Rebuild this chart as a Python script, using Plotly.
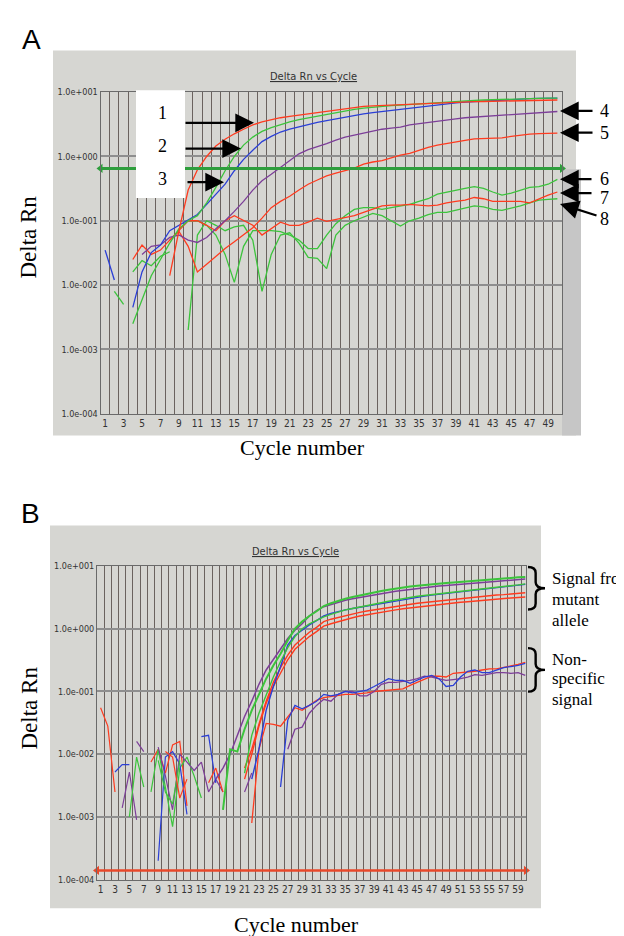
import math
import plotly.graph_objects as go

W, H = 624, 936

# ---------------- shared tick data ----------------
y_tick_vals = [1e-4, 1e-3, 1e-2, 1e-1, 1e0, 1e1]
y_tick_text = ["1.0e-004", "1.0e-003", "1.0e-002", "1.0e-001", "1.0e+000", "1.0e+001"]
a_tick_cycles = list(range(1, 50, 2))
b_tick_cycles = list(range(1, 60, 2))

a_threshold = 0.65
b_threshold = 1.4e-4

# ---------------- panel A data (start cycle + values) ----------------
a_red1_start = 8
a_red1 = [0.014, 0.07, 0.3, 0.62, 1.0, 1.45, 1.85, 2.25, 2.65, 3.1, 3.45, 3.75, 4.0, 4.2,
          4.4, 4.6, 4.85, 5.1, 5.35, 5.55, 5.8, 6.0, 6.1, 6.2, 6.3, 6.4, 6.5, 6.6, 6.7, 6.8,
          6.9, 7.0, 7.05, 7.1, 7.15, 7.2, 7.25, 7.3, 7.35, 7.4, 7.45, 7.5, 7.55]
a_green2_start = 4
a_green2 = [0.0025, 0.006, 0.014, 0.025, 0.045, 0.075, 0.1, 0.12, 0.19, 0.33, 0.6, 1.0, 1.5,
            2.0, 2.45, 2.8, 3.15, 3.45, 3.75, 4.0, 4.25, 4.5, 4.8, 5.1, 5.4, 5.65, 5.85, 6.0,
            6.15, 6.3, 6.45, 6.6, 6.75, 6.9, 7.05, 7.2, 7.35, 7.45, 7.55, 7.65, 7.75, 7.85,
            7.9, 7.95, 8.0, 8.05, 8.1]
a_blue3a_start = 1
a_blue3a = [0.035, 0.012]
a_blue3_start = 4
a_blue3 = [0.0045, 0.016, 0.032, 0.042, 0.07, 0.085, 0.1, 0.125, 0.18, 0.26, 0.37, 0.6, 0.9,
           1.25, 1.7, 2.05, 2.4, 2.65, 2.9, 3.15, 3.4, 3.6, 3.85, 4.1, 4.4, 4.6, 4.8, 5.0,
           5.15, 5.35, 5.6, 5.85, 6.1, 6.35, 6.6, 6.8, 7.0, 7.15, 7.3, 7.45, 7.6, 7.7, 7.8,
           7.9, 8.0, 8.05, 8.1]
a_purple4_start = 5
a_purple4 = [0.03, 0.04, 0.042, 0.055, 0.06, 0.05, 0.046, 0.055, 0.075, 0.1, 0.14, 0.2, 0.3,
             0.42, 0.53, 0.68, 0.88, 1.1, 1.28, 1.42, 1.58, 1.8, 2.0, 2.15, 2.3, 2.5, 2.65,
             2.75, 2.85, 3.1, 3.25, 3.4, 3.55, 3.7, 3.85, 4.0, 4.1, 4.2, 4.3, 4.4, 4.5, 4.6,
             4.7, 4.8, 4.9, 5.0]
a_red5_start = 8
a_red5 = [0.05, 0.068, 0.04, 0.016, 0.021, 0.028, 0.037, 0.047, 0.06, 0.078, 0.11, 0.16, 0.2,
          0.24, 0.3, 0.37, 0.43, 0.5, 0.55, 0.6, 0.66, 0.76, 0.82, 0.86, 0.95, 1.05, 1.12,
          1.25, 1.38, 1.5, 1.6, 1.68, 1.78, 1.88, 1.9, 1.9, 1.95, 2.05, 2.15, 2.22, 2.26,
          2.28, 2.3]
a_green6a_start = 4
a_green6a = [0.016, 0.024, 0.02, 0.028, 0.033]
a_green6_start = 10
a_green6 = [0.1, 0.1, 0.085, 0.06, 0.03, 0.011, 0.04, 0.07, 0.07, 0.07, 0.068, 0.06, 0.05,
            0.037, 0.037, 0.06, 0.09, 0.12, 0.15, 0.16, 0.16, 0.15, 0.16, 0.17, 0.18, 0.2,
            0.22, 0.26, 0.28, 0.3, 0.32, 0.34, 0.32, 0.28, 0.25, 0.27, 0.3, 0.33, 0.34, 0.37,
            0.44]
a_red7_start = 4
a_red7 = [0.025, 0.042, 0.03, 0.035, 0.05, 0.07, 0.1, 0.1, 0.085, 0.07, 0.1, 0.12, 0.1, 0.085,
          0.06, 0.075, 0.095, 0.085, 0.085, 0.095, 0.11, 0.098, 0.105, 0.115, 0.12, 0.135,
          0.15, 0.17, 0.175, 0.175, 0.18, 0.175, 0.17, 0.175, 0.19, 0.2, 0.21, 0.23, 0.22,
          0.2, 0.2, 0.2, 0.2, 0.19, 0.22, 0.25, 0.28]
a_green8a_start = 2
a_green8a = [0.008, 0.005]
a_green8_start = 10
a_green8 = [0.002, 0.06, 0.1, 0.085, 0.07, 0.08, 0.085, 0.05, 0.008, 0.03, 0.06, 0.065, 0.045,
            0.027, 0.026, 0.018, 0.06, 0.085, 0.1, 0.115, 0.13, 0.12, 0.1, 0.083, 0.1, 0.11,
            0.125, 0.135, 0.135, 0.145, 0.16, 0.17, 0.165, 0.15, 0.145, 0.155, 0.17, 0.19,
            0.21, 0.215, 0.22]

# ---------------- panel B data ----------------
b_purple_start = 17
b_purple = [0.004, 0.006, 0.01, 0.02, 0.04, 0.07, 0.13, 0.22, 0.32, 0.48, 0.7, 0.95, 1.2, 1.6,
            1.95, 2.25, 2.45, 2.65, 2.85, 3.0, 3.15, 3.35, 3.5, 3.65, 3.8, 3.95, 4.1, 4.25,
            4.4, 4.55, 4.65, 4.8, 4.9, 5.0, 5.1, 5.2, 5.3, 5.45, 5.55, 5.7, 5.85, 5.95, 6.05,
            6.2]
b_green_top_start = 18
b_green_top = [0.0013, 0.012, 0.011, 0.025, 0.05, 0.09, 0.16, 0.26, 0.4, 0.65, 1.0, 1.3, 1.6,
               1.9, 2.3, 2.55, 2.8, 3.0, 3.2, 3.4, 3.6, 3.8, 4.0, 4.2, 4.4, 4.55, 4.7, 4.85,
               5.0, 5.1, 5.2, 5.35, 5.45, 5.55, 5.65, 5.8, 5.9, 6.0, 6.15, 6.3, 6.45, 6.6, 6.7]
b_green2_start = 21
b_green2 = [0.005, 0.02, 0.045, 0.09, 0.17, 0.3, 0.5, 0.75, 1.0, 1.2, 1.38, 1.55, 1.7, 1.85,
            2.0, 2.1, 2.2, 2.35, 2.45, 2.6, 2.75, 2.9, 3.0, 3.15, 3.3, 3.4, 3.5, 3.6, 3.7, 3.8,
            3.9, 4.0, 4.1, 4.25, 4.4, 4.55, 4.7, 4.85, 5.0, 5.2]
b_blue_start = 22
b_blue = [0.004, 0.012, 0.05, 0.12, 0.25, 0.55, 0.78, 0.95, 1.15, 1.35, 1.6, 1.75, 1.88, 2.0,
          2.1, 2.2, 2.32, 2.42, 2.55, 2.7, 2.82, 2.95, 3.08, 3.2, 3.32, 3.44, 3.55, 3.65, 3.75,
          3.85, 3.95, 4.05, 4.2, 4.35, 4.5, 4.65, 4.8, 4.95, 5.1]
b_red1_start = 21
b_red1 = [0.006, 0.012, 0.03, 0.07, 0.14, 0.24, 0.38, 0.55, 0.7, 0.88, 1.05, 1.3, 1.42, 1.52,
          1.62, 1.72, 1.82, 1.92, 2.0, 2.1, 2.2, 2.28, 2.36, 2.45, 2.55, 2.62, 2.7, 2.78, 2.85,
          2.92, 3.0, 3.08, 3.15, 3.25, 3.35, 3.45, 3.5, 3.6, 3.68, 3.75]
b_red2_start = 21
b_red2 = [0.004, 0.01, 0.028, 0.065, 0.12, 0.2, 0.32, 0.47, 0.6, 0.75, 0.9, 1.1, 1.2, 1.3, 1.4,
          1.5, 1.6, 1.68, 1.76, 1.85, 1.92, 2.0, 2.08, 2.15, 2.22, 2.3, 2.37, 2.44, 2.5, 2.57,
          2.64, 2.7, 2.77, 2.85, 2.92, 3.0, 3.05, 3.1, 3.15, 3.2]
b_red_ns_start = 22
b_red_ns = [0.0008, 0.012, 0.031, 0.03, 0.028, 0.04, 0.055, 0.05, 0.06, 0.072, 0.08, 0.083,
            0.085, 0.09, 0.09, 0.092, 0.095, 0.1, 0.102, 0.104, 0.106, 0.11, 0.125, 0.14, 0.16,
            0.175, 0.175, 0.17, 0.195, 0.2, 0.2, 0.21, 0.22, 0.23, 0.23, 0.24, 0.255, 0.27,
            0.29]
b_blue_ns_start = 26
b_blue_ns = [0.003, 0.035, 0.06, 0.053, 0.06, 0.07, 0.09, 0.085, 0.09, 0.1, 0.095, 0.1, 0.105,
             0.12, 0.14, 0.16, 0.15, 0.15, 0.135, 0.15, 0.17, 0.18, 0.16, 0.12, 0.125, 0.17,
             0.21, 0.22, 0.2, 0.2, 0.22, 0.24, 0.25, 0.26, 0.28]
b_purple_ns_start = 27
b_purple_ns = [0.012, 0.025, 0.027, 0.045, 0.06, 0.075, 0.07, 0.09, 0.1, 0.1, 0.085, 0.085,
               0.1, 0.13, 0.14, 0.14, 0.145, 0.15, 0.16, 0.175, 0.17, 0.16, 0.15, 0.155, 0.16,
               0.17, 0.185, 0.18, 0.19, 0.2, 0.2, 0.195, 0.2, 0.18]

# early noisy fragments in panel B: (start cycle, values, colour key)
b_noise = [
    (1, [0.055, 0.028, 0.0025], "red"),
    (3, [0.0052, 0.0068, 0.0068], "blue"),
    (4, [0.0014, 0.0052, 0.0009], "purple"),
    (6, [0.016, 0.011], "purple"),
    (5, [0.001, 0.009, 0.003], "green"),
    (8, [0.0075, 0.012, 0.005, 0.014, 0.016, 0.0015], "red"),
    (8, [0.0025, 0.012, 0.003, 0.0007, 0.006, 0.009, 0.0045, 0.002], "green"),
    (9, [0.0002, 0.009, 0.011, 0.007, 0.0011], "blue"),
    (9, [0.013, 0.0045, 0.0013, 0.01, 0.0075, 0.0055, 0.0075, 0.0025, 0.004, 0.0025], "purple"),
    (9, [0.008, 0.0025, 0.0016, 0.008], "green"),
    (10, [0.011, 0.009, 0.002, 0.004], "red"),
    (15, [0.019, 0.02, 0.0035], "blue"),
    (16, [0.0035, 0.006, 0.0025], "red"),
    (21, [0.0025, 0.005], "purple"),
]

COL = {"red": "#ff3b1f", "green": "#3cc43c", "blue": "#2b3fd6", "purple": "#7d3f99"}
A_THR_COLOR = "#2e9e3c"
B_THR_COLOR = "#e8482a"


def px(x):
    return x / W


def py(y):
    return 1 - y / H


fig = go.Figure()


def add_line(start, vals, color, xa, ya, width=1.3):
    fig.add_trace(go.Scatter(x=list(range(start, start + len(vals))), y=vals, mode="lines",
                             line=dict(color=color, width=width), xaxis=xa, yaxis=ya,
                             showlegend=False, hoverinfo="skip"))


# panel A traces
for st, v, c in [
    (a_green8a_start, a_green8a, COL["green"]),
    (a_green8_start, a_green8, COL["green"]),
    (a_green6a_start, a_green6a, COL["green"]),
    (a_green6_start, a_green6, COL["green"]),
    (a_red7_start, a_red7, COL["red"]),
    (a_red5_start, a_red5, COL["red"]),
    (a_purple4_start, a_purple4, COL["purple"]),
    (a_blue3a_start, a_blue3a, COL["blue"]),
    (a_blue3_start, a_blue3, COL["blue"]),
    (a_green2_start, a_green2, COL["green"]),
    (a_red1_start, a_red1, COL["red"]),
]:
    add_line(st, v, c, "x", "y")

# panel A threshold: a line across the axis range with arrow heads at both ends
a_range = [0.5, 50.5]
fig.add_trace(go.Scatter(x=a_range, y=[a_threshold, a_threshold], mode="lines+markers",
                         line=dict(color=A_THR_COLOR, width=3.2),
                         marker=dict(symbol=["triangle-left", "triangle-right"], size=8,
                                     color=A_THR_COLOR),
                         cliponaxis=False, xaxis="x", yaxis="y", showlegend=False,
                         hoverinfo="skip"))

# panel B traces
for st, v, key in b_noise:
    add_line(st, v, COL[key], "x2", "y2", 1.2)
for st, v, c, w in [
    (b_red_ns_start, b_red_ns, COL["red"], 1.3),
    (b_purple_ns_start, b_purple_ns, COL["purple"], 1.3),
    (b_blue_ns_start, b_blue_ns, COL["blue"], 1.3),
    (b_red2_start, b_red2, COL["red"], 1.4),
    (b_red1_start, b_red1, COL["red"], 1.4),
    (b_blue_start, b_blue, COL["blue"], 1.4),
    (b_green2_start, b_green2, COL["green"], 1.4),
    (b_purple_start, b_purple, COL["purple"], 1.5),
    (b_green_top_start, b_green_top, COL["green"], 2.0),
]:
    add_line(st, v, c, "x2", "y2", w)

b_range = [0.5, 60.1]
fig.add_trace(go.Scatter(x=b_range, y=[b_threshold, b_threshold], mode="lines+markers",
                         line=dict(color=B_THR_COLOR, width=2.6),
                         marker=dict(symbol=["triangle-left", "triangle-right"], size=8,
                                     color=B_THR_COLOR),
                         cliponaxis=False, xaxis="x2", yaxis="y2", showlegend=False,
                         hoverinfo="skip"))

NARROW = "Liberation Sans Narrow, Arial Narrow, DejaVu Sans Condensed, Liberation Sans, Arial"
SERIF = "Liberation Serif, Times New Roman, serif"
SANS = "Liberation Sans, Arial, sans-serif"

VGRID = "#6a625e"
HGRID = "#8e8e8e"


def xaxis_cfg(domain, rng, ticks):
    return dict(domain=domain, range=rng, tickmode="array", tickvals=ticks,
                ticktext=[str(t) for t in ticks], showgrid=False, zeroline=False,
                showline=True, mirror=True, linecolor="#6a6a6a", linewidth=1,
                ticks="", tickfont=dict(family=NARROW, size=10, color="#333333"),
                minor=dict(tickmode="linear", tick0=0.5, dtick=1, showgrid=True,
                           gridcolor=VGRID, gridwidth=1.35, ticklen=0),
                fixedrange=True)


def yaxis_cfg(domain, anchor):
    return dict(domain=domain, type="log", range=[-4, 1], tickmode="array",
                tickvals=y_tick_vals, ticktext=y_tick_text, showgrid=True,
                gridcolor=HGRID, gridwidth=1.5, zeroline=False, showline=True, mirror=True,
                linecolor="#6a6a6a", linewidth=1, ticks="", anchor=anchor,
                tickfont=dict(family=NARROW, size=9, color="#333333"), fixedrange=True)


layout = dict(
    width=W, height=H, autosize=False, margin=dict(l=0, r=0, t=0, b=0),
    paper_bgcolor="white", plot_bgcolor="#fcfcfa", showlegend=False,
    xaxis=xaxis_cfg([px(92.5), px(554)], a_range, a_tick_cycles),
    yaxis=yaxis_cfg([py(405), py(80)], "x"),
    xaxis2=xaxis_cfg([px(89), px(518)], b_range, b_tick_cycles),
    yaxis2=yaxis_cfg([py(876), py(559)], "x2"),
)
layout["xaxis"]["anchor"] = "y"
layout["xaxis2"]["anchor"] = "y2"
fig.update_layout(**layout)

shapes = []
# gray panels
shapes.append(dict(type="rect", xref="paper", yref="paper", x0=px(45), x1=px(568), y0=py(427),
                   y1=py(38), fillcolor="#d6d6d2", line=dict(width=0), layer="below"))
shapes.append(dict(type="rect", xref="paper", yref="paper", x0=px(554), x1=px(573), y0=py(427),
                   y1=py(158), fillcolor="#c6c6c6", line=dict(width=0), layer="below"))
shapes.append(dict(type="rect", xref="paper", yref="paper", x0=px(42), x1=px(533), y0=py(905),
                   y1=py(518), fillcolor="#d6d6d2", line=dict(width=0), layer="below"))
# white label box in A (covers lines, grid and threshold)
shapes.append(dict(type="rect", xref="paper", yref="paper", x0=px(128), x1=px(177), y0=py(187),
                   y1=py(78), fillcolor="white", line=dict(width=0), layer="above"))


def brace(x0, xp, y0, y1):
    ym = (y0 + y1) / 2
    x1 = x0 + (xp - x0) * 0.45
    r = 6
    pts = [("M", [(x0, y0)]), ("Q", [(x1, y0), (x1, y0 + r)]), ("L", [(x1, ym - r)]),
           ("Q", [(x1, ym), (xp, ym)]), ("Q", [(x1, ym), (x1, ym + r)]), ("L", [(x1, y1 - r)]),
           ("Q", [(x1, y1), (x0, y1)])]
    s = ""
    for cmd, ps in pts:
        s += cmd + " " + " ".join(f"{px(a):.5f},{py(b):.5f}" for a, b in ps) + " "
    return dict(type="path", xref="paper", yref="paper", path=s.strip(),
                line=dict(color="black", width=2.4))


shapes.append(brace(520, 537, 560, 603))
shapes.append(brace(520, 537, 642, 686))
fig.update_layout(shapes=shapes)

ann = []


def text(x, y, t, size, family=SERIF, color="black", xanchor="center", **kw):
    ann.append(dict(x=px(x), y=py(y), xref="paper", yref="paper", text=t, showarrow=False,
                    xanchor=xanchor, yanchor="middle",
                    font=dict(family=family, size=size, color=color), **kw))


text(23, 27, "A", 28, SANS)
text(22, 506, "B", 28, SANS)
text(305, 64, "<u>Delta Rn vs Cycle</u>", 11, NARROW, "#333333")
text(287, 544, "<u>Delta Rn vs Cycle</u>", 11, NARROW, "#333333")
text(21, 227, "Delta Rn", 23, textangle=-90)
text(21, 703, "Delta Rn", 23, textangle=-90)
text(294, 439, "Cycle number", 22)
text(288, 921, "Cycle number", 22)
text(154, 101, "1", 18)
text(154, 134, "2", 18)
text(154, 168, "3", 18)
for y, t in [(99, "4"), (121, "5"), (168, "6"), (187, "7"), (208, "8")]:
    text(596, y, t, 18)
for y, t in [(572, "Signal from"), (593, "mutant"), (614, "allele"),
             (653, "Non-"), (673, "specific"), (694, "signal")]:
    text(542, y, t, 17, xanchor="left")


def arrow(tx, ty, ax, ay, width=2.2, size=1.7):
    ann.append(dict(x=px(tx), y=py(ty), xref="paper", yref="paper", text="", showarrow=True,
                    ax=ax, ay=ay, arrowhead=2, arrowsize=size, arrowwidth=width,
                    arrowcolor="black", standoff=0))


arrow(246, 111, -70, 0)
arrow(233, 137, -57, 0)
arrow(216, 171, -38, 0)
arrow(552, 99, 34, 0)
arrow(552, 121, 34, 0)
arrow(552, 168, 33, 0)
arrow(552, 182, 33, 0)
arrow(552, 193, 38, 12)

fig.update_layout(annotations=ann)
fig.write_html("out.html")
